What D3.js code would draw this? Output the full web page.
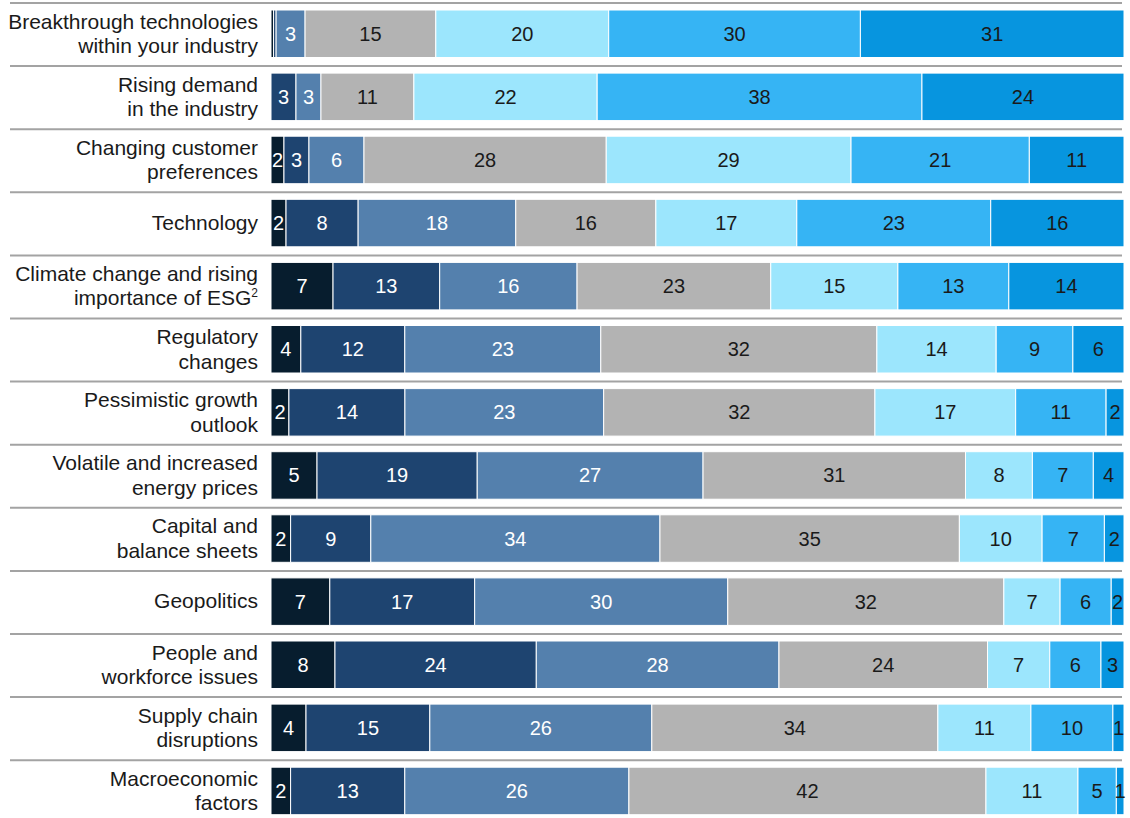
<!DOCTYPE html>
<html>
<head>
<meta charset="utf-8">
<script src="https://cdn.jsdelivr.net/npm/d3@7"></script>
<style>
  html, body { margin: 0; padding: 0; background: #fff; }
  svg { display: block; }
  text { font-family: "Liberation Sans", Arial, sans-serif; }
</style>
</head>
<body>
<svg id="chart" width="1130" height="818"></svg>
<script>
// ---- Data (percent of respondents; labels are rounded) ----
const categories = [
  "Breakthrough technologies|within your industry",
  "Rising demand|in the industry",
  "Changing customer|preferences",
  "Technology",
  "Climate change and rising|importance of ESG^2",
  "Regulatory|changes",
  "Pessimistic growth|outlook",
  "Volatile and increased|energy prices",
  "Capital and|balance sheets",
  "Geopolitics",
  "People and|workforce issues",
  "Supply chain|disruptions",
  "Macroeconomic|factors"
];
const seriesKeys = ["s1", "s2", "s3", "s4", "s5", "s6", "s7"];
const s1 = [0.3, 0, 1.52, 1.76, 7.27, 3.5, 2.1, 5.4, 2.3, 6.9, 7.5, 4.1, 2.3];
const s2 = [0.3, 2.93, 2.93, 8.44, 12.5, 12.2, 13.6, 18.8, 9.4, 17.0, 23.6, 14.5, 13.4];
const s3 = [3.4, 2.93, 6.45, 18.45, 16.1, 23.0, 23.3, 26.5, 33.9, 29.7, 28.45, 26.0, 26.3];
const s4 = [15.35, 10.9, 28.4, 16.4, 22.7, 32.4, 31.8, 30.8, 35.1, 32.4, 24.45, 33.5, 41.9];
const s5 = [20.3, 21.5, 28.7, 16.5, 14.9, 14.0, 16.5, 7.85, 9.7, 6.6, 7.3, 10.9, 10.8];
const s6 = [29.55, 38.1, 20.9, 22.7, 13.0, 9.0, 10.6, 7.15, 7.3, 6.0, 6.0, 9.6, 4.5];
const s7 = [30.95, 23.7, 11.1, 15.6, 13.5, 6.0, 2.1, 3.6, 2.3, 1.5, 2.7, 1.3, 0.9];
const seriesValues = [s1, s2, s3, s4, s5, s6, s7];
const colors = ["#071d2e", "#1e4470", "#5480ad", "#b3b3b3", "#9ce6fd", "#36b4f4", "#0795df"];
const textColors = ["#ffffff", "#ffffff", "#ffffff", "#1a1a1a", "#1a1a1a", "#1a1a1a", "#1a1a1a"];

// ---- Build table ----
const table = categories.map((c, i) => {
  const row = { cat: c };
  seriesKeys.forEach((k, j) => row[k] = seriesValues[j][i]);
  return row;
});

const svg = d3.select("#chart");
const barLeft = 271, barRight = 1124;

const x = d3.scaleLinear().domain([0, 1]).range([barLeft, barRight]);
const y = d3.scaleBand().domain(categories).range([3, 3 + 13 * 63.1]).paddingInner(0);

const stack = d3.stack().keys(seriesKeys).offset(d3.stackOffsetExpand);
const stacked = stack(table);

// separator lines
svg.append("g").selectAll("line")
  .data(categories)
  .join("line")
  .attr("x1", 10).attr("x2", 1122)
  .attr("y1", d => y(d)).attr("y2", d => y(d))
  .attr("stroke", "#a3a3a3")
  .attr("stroke-width", 2);

const barTop = 7, barH = 47.5;

const layers = svg.append("g").selectAll("g")
  .data(stacked)
  .join("g")
  .attr("fill", (d, i) => colors[i]);

layers.selectAll("rect")
  .data(d => d)
  .join("rect")
  .attr("x", d => x(d[0]))
  .attr("width", d => Math.max(0, x(d[1]) - x(d[0])))
  .attr("y", d => y(d.data.cat) + barTop)
  .attr("height", barH)
  .attr("stroke", "#ffffff")
  .attr("stroke-width", 1);

// value labels
const labelG = svg.append("g");
stacked.forEach((layer, i) => {
  labelG.selectAll(null)
    .data(layer.filter(d => Math.round(d.data[layer.key]) >= 1))
    .join("text")
    .attr("x", d => (x(d[0]) + x(d[1])) / 2)
    .attr("y", d => y(d.data.cat) + barTop + barH / 2 + 7)
    .attr("text-anchor", "middle")
    .attr("font-size", 20)
    .attr("fill", textColors[i])
    .text(d => Math.round(d.data[layer.key]));
});

// category labels
const catG = svg.append("g");
categories.forEach(c => {
  const lines = c.split("|");
  const center = y(c) + y.bandwidth() / 2;
  const t = catG.append("text")
    .attr("text-anchor", "end")
    .attr("font-size", 21)
    .attr("fill", "#1a1a1a");
  lines.forEach((ln, k) => {
    const baseY = lines.length === 1 ? center + 6 : center - 6 + k * 24.5;
    const parts = ln.split("^");
    t.append("tspan").attr("x", 258).attr("y", baseY).text(parts[0]);
    if (parts.length > 1) {
      t.append("tspan").attr("font-size", 12).attr("dy", -8).text(parts[1]);
    }
  });
});
</script>
</body>
</html>
